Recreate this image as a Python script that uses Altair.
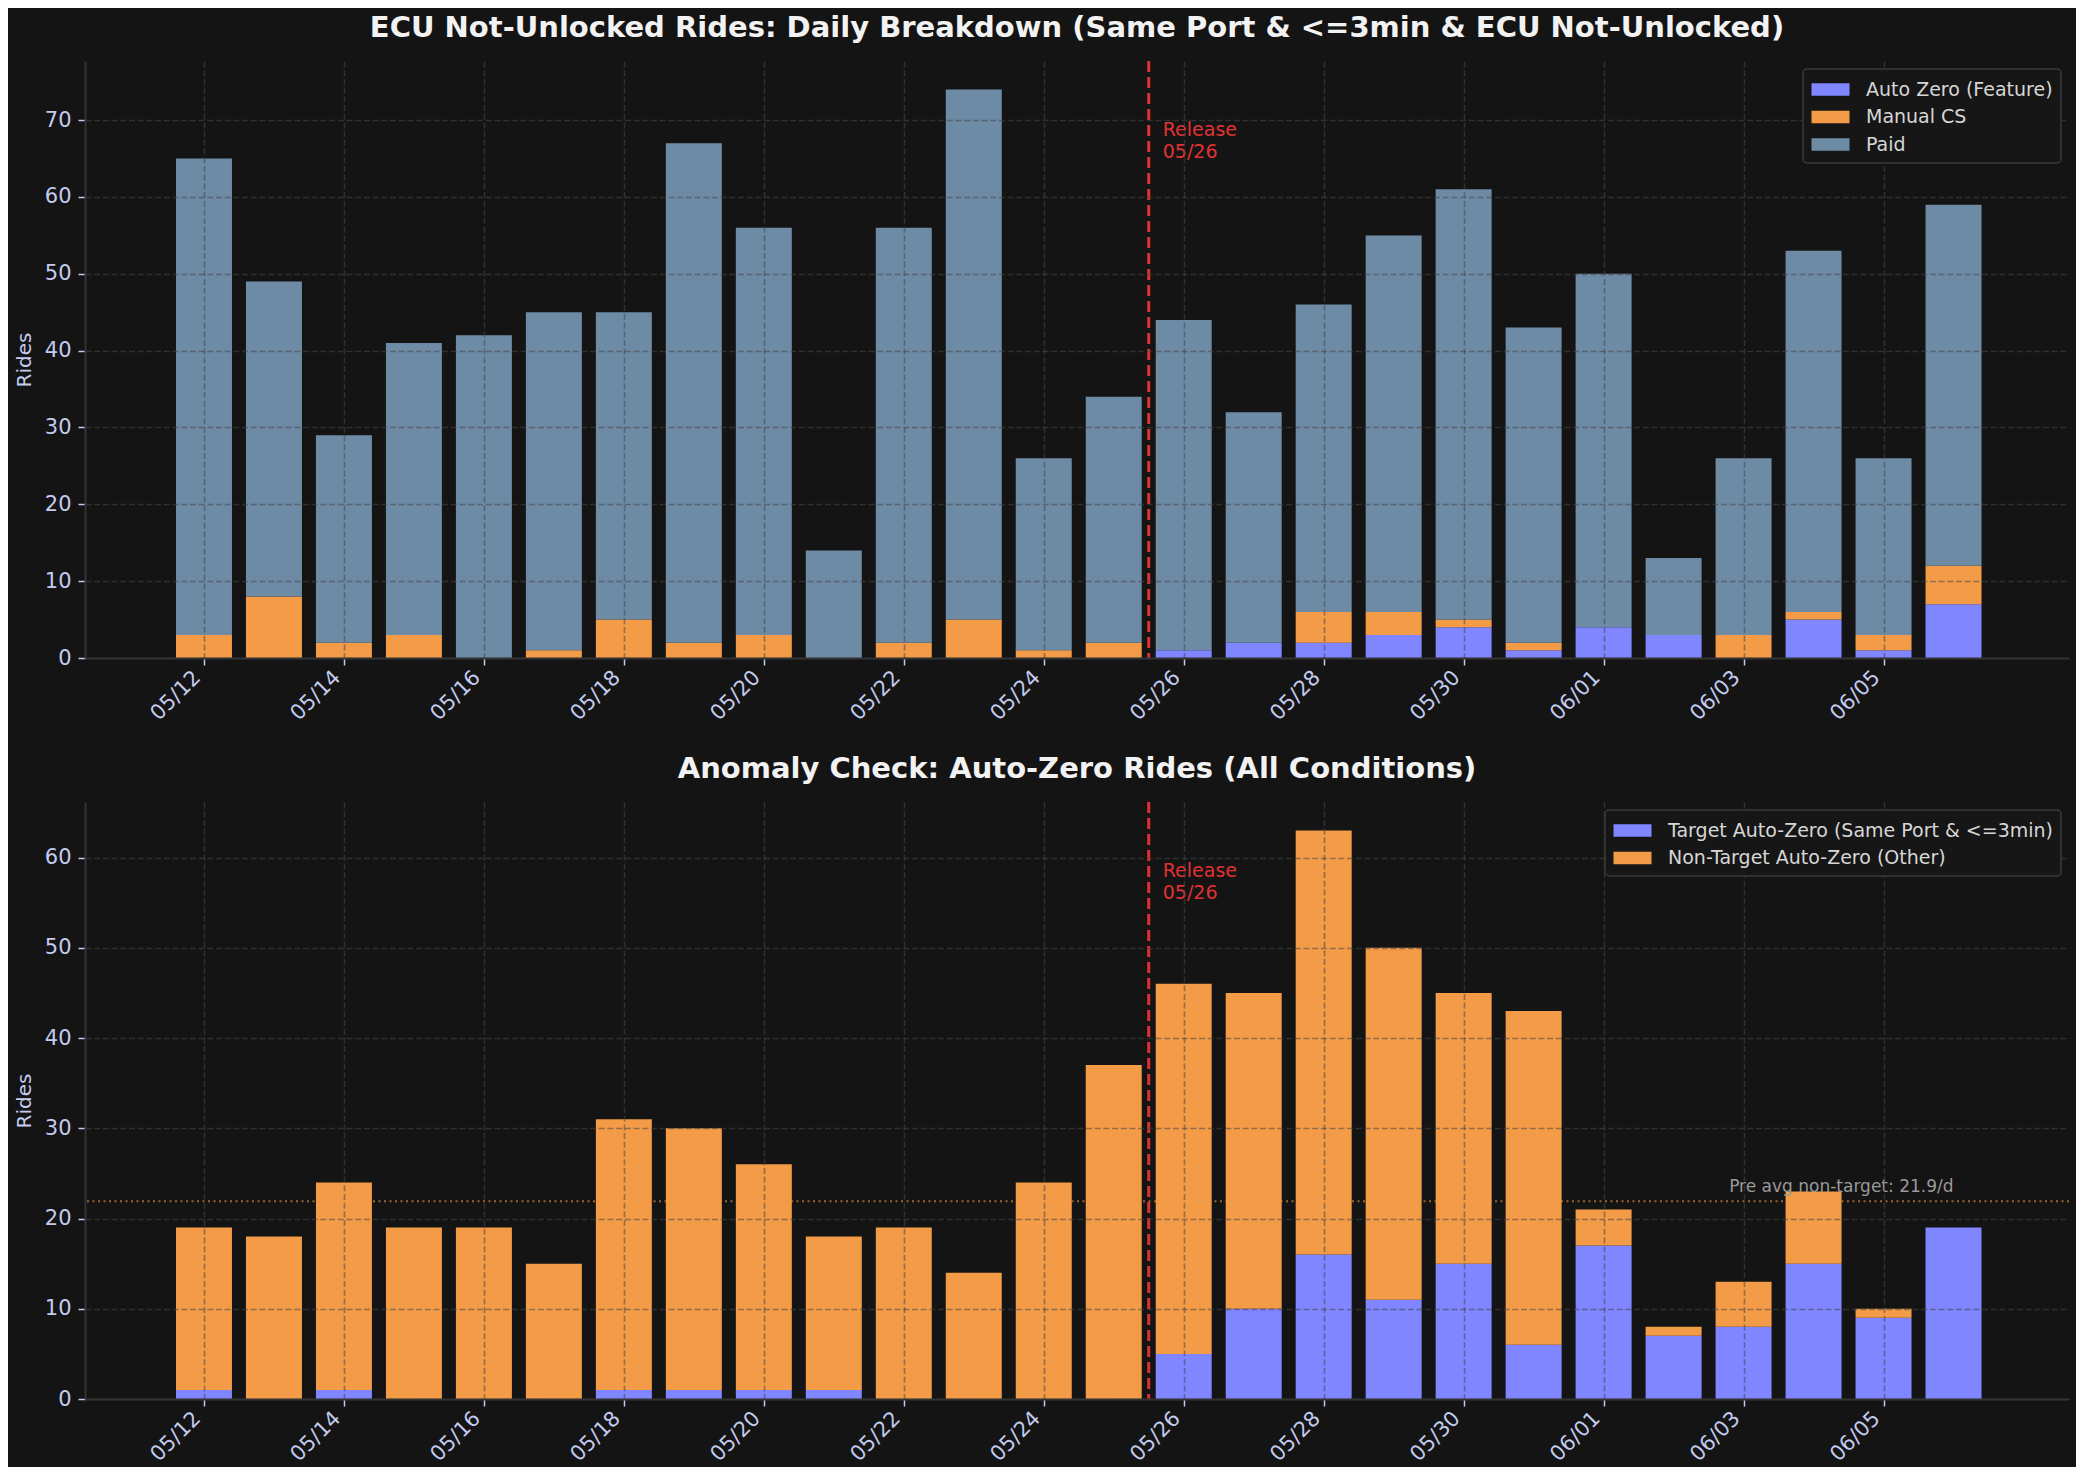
import altair as alt
import pandas as pd

# ---------------- data ----------------
dates = ["05/12", "05/13", "05/14", "05/15", "05/16", "05/17", "05/18", "05/19",
         "05/20", "05/21", "05/22", "05/23", "05/24", "05/25", "05/26", "05/27",
         "05/28", "05/29", "05/30", "05/31", "06/01", "06/02", "06/03", "06/04",
         "06/05", "06/06"]

# top panel: ECU not-unlocked rides
auto_zero = [0, 0, 0, 0, 0, 0, 0, 0, 0, 0, 0, 0, 0, 0,
             1, 2, 2, 3, 4, 1, 4, 3, 0, 5, 1, 7]
manual_cs = [3, 8, 2, 3, 0, 1, 5, 2, 3, 0, 2, 5, 1, 2,
             0, 0, 4, 3, 1, 1, 0, 0, 3, 1, 2, 5]
paid = [62, 41, 27, 38, 42, 44, 40, 65, 53, 14, 54, 69, 25, 32,
        43, 30, 40, 49, 56, 41, 46, 10, 23, 47, 23, 47]

# bottom panel: auto-zero rides, all conditions
target_az = [1, 0, 1, 0, 0, 0, 1, 1, 1, 1, 0, 0, 0, 0,
             5, 10, 16, 11, 15, 6, 17, 7, 8, 15, 9, 19]
non_target_az = [18, 18, 23, 19, 19, 15, 30, 29, 25, 17, 19, 14, 24, 37,
                 41, 35, 47, 39, 30, 37, 4, 1, 5, 8, 1, 0]

release_date = "05/26"
pre_avg_non_target = 21.9

top_series = ["Auto Zero (Feature)", "Manual CS", "Paid"]
bottom_series = ["Target Auto-Zero (Same Port & <=3min)", "Non-Target Auto-Zero (Other)"]

top_title = "ECU Not-Unlocked Rides: Daily Breakdown (Same Port & <=3min & ECU Not-Unlocked)"
bottom_title = "Anomaly Check: Auto-Zero Rides (All Conditions)"

# ---------------- style ----------------
BG = "#141414"
BLUE = "#7f86ff"
ORANGE = "#f39b47"
PAID = "#6e8ba6"
RED = "#e03232"
TICK = "#c3cbef"
FONT = "DejaVu Sans"
W, H = 1984, 597
BAR_HALF = 0.4

release_idx = dates.index(release_date) - 0.5
x_domain = [-1.7, len(dates) + 0.65]
x_scale = alt.Scale(domain=x_domain, nice=False, zero=False)
label_expr = "[" + ",".join("'%s'" % d for d in dates) + "][datum.value]"
x_ticks = list(range(0, len(dates), 2))

grid_kw = dict(grid=True, gridColor="#474747", gridOpacity=0.55, gridDash=[6, 2.7],
               gridWidth=1.6, zindex=1)

x_axis = alt.Axis(values=x_ticks, labelExpr=label_expr, labelAngle=-45, labelAlign="right",
                  labelBaseline="bottom", labelPadding=16, title=None, **grid_kw)


def long_frame(series_names, arrays):
    rows = []
    for k, (name, vals) in enumerate(zip(series_names, arrays)):
        for i, d in enumerate(dates):
            rows.append({"idx": i, "date": d, "series": name, "ord": k, "value": vals[i]})
    return pd.DataFrame(rows)


def legend():
    # wide rectangle patch: path spans +-1.52 x +-0.5 at r=12.5 -> 38 x 12.5 px
    return alt.Legend(
        title=None, orient="top-right", offset=8, zindex=3,
        fillColor="#161616", strokeColor="#3a3a3a", cornerRadius=4,
        padding=8, labelFont=FONT, labelFontSize=19, labelColor="#d6d6d6",
        labelOffset=23, labelLimit=600, symbolType="M-1.52,-0.5H1.52V0.5H-1.52Z",
        symbolSize=625, symbolOffset=7, symbolStrokeWidth=0, symbolOpacity=1,
    )


def panel(df, series_names, colors, totals):
    ymax = max(totals) * 1.05
    y_scale = alt.Scale(domain=[0, ymax], nice=False)
    y_ticks = list(range(0, int(ymax) + 1, 10))
    y_axis = alt.Axis(values=y_ticks, title="Rides", titlePadding=10, **grid_kw)

    def xe(field):
        return alt.X(field, scale=x_scale, axis=x_axis)

    def ye(field):
        return alt.Y(field, scale=y_scale, axis=y_axis)

    bars = alt.Chart(df).transform_stack(
        stack="value", as_=["y0", "y1"], groupby=["idx"], sort=[alt.SortField("ord")]
    ).transform_calculate(
        x0="datum.idx - %f" % BAR_HALF, x1="datum.idx + %f" % BAR_HALF
    ).mark_bar().encode(
        x=xe("x0:Q"), x2="x1:Q", y=ye("y0:Q"), y2="y1:Q",
        color=alt.Color("series:N", scale=alt.Scale(domain=series_names, range=colors),
                        legend=legend()),
    )

    rel_df = pd.DataFrame({"x0": [release_idx], "y0": [ymax * 0.9],
                           "label": ["Release\n" + release_date]})
    rule = alt.Chart(rel_df).mark_rule(color=RED, strokeWidth=3, strokeDash=[11, 5]).encode(
        x=xe("x0:Q"))
    text = alt.Chart(rel_df).mark_text(
        align="left", baseline="top", dx=14, color=RED, font=FONT, fontSize=19,
        lineBreak="\n", lineHeight=22).encode(
        x=xe("x0:Q"), y=ye("y0:Q"), text="label:N")

    return [bars, rule, text], xe, ye


top_df = long_frame(top_series, [auto_zero, manual_cs, paid])
top_tot = [a + b + c for a, b, c in zip(auto_zero, manual_cs, paid)]
top_layers, _, _ = panel(top_df, top_series, [BLUE, ORANGE, PAID], top_tot)

bot_df = long_frame(bottom_series, [target_az, non_target_az])
bot_tot = [a + b for a, b in zip(target_az, non_target_az)]
bot_layers, bxe, bye = panel(bot_df, bottom_series, [BLUE, ORANGE], bot_tot)

avg_df = pd.DataFrame({"y0": [pre_avg_non_target], "x0": [len(dates) - 1],
                       "label": ["Pre avg non-target: %.1f/d" % pre_avg_non_target]})
avg_rule = alt.Chart(avg_df).mark_rule(color=ORANGE, opacity=0.6, strokeWidth=2,
                                       strokeDash=[2, 3.5]).encode(y=bye("y0:Q"))
avg_text = alt.Chart(avg_df).mark_text(
    align="right", baseline="bottom", dy=-5, color="#9a9a9a", font=FONT, fontSize=17).encode(
    x=bxe("x0:Q"), y=bye("y0:Q"), text="label:N")

title_kw = dict(fontSize=29, font=FONT, fontWeight="bold", color="#f2f2f2",
                anchor="middle", offset=17)

top = alt.layer(*top_layers).properties(
    width=W, height=H, title=alt.TitleParams(top_title, **title_kw))
bottom = alt.layer(bot_layers[0], avg_rule, *bot_layers[1:], avg_text).properties(
    width=W, height=H, title=alt.TitleParams(bottom_title, **title_kw))

chart = alt.vconcat(top, bottom, spacing=30).resolve_scale(
    y="independent", color="independent"
).resolve_legend(color="independent").properties(
    background=BG, padding={"left": 6, "top": 5, "right": 6, "bottom": 2}
).configure_view(stroke=None).configure_axis(
    domainColor="#333333", domainWidth=2, tickColor=TICK, tickWidth=1.5, tickSize=7,
    labelColor=TICK, labelFont=FONT, labelFontSize=21, labelPadding=7,
    titleColor=TICK, titleFont=FONT, titleFontSize=20, titleFontWeight="normal",
).configure_legend(symbolStrokeWidth=0, rowPadding=4.5, strokeWidth=1.5)

chart.save("out.html", embed_options={"renderer": "svg", "actions": False})
